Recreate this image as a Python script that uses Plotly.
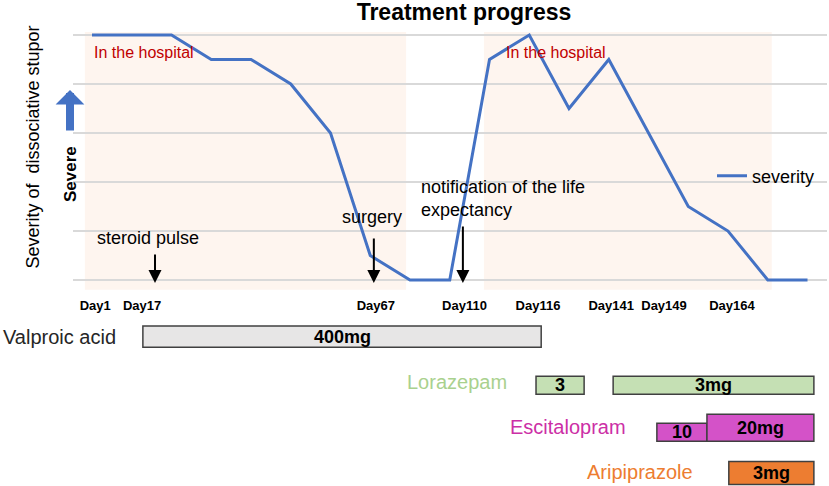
import plotly.graph_objects as go

# severity score at each time point (equally spaced on the chart)
points = list(range(19))
severity = [5, 5, 5, 4.5, 4.5, 4, 3, 0.5, 0, 0, 4.5, 5, 3.5, 4.5, 3, 1.5, 1, 0, 0]

day_pos = [0.08, 1.26, 7.14, 9.37, 11.22, 13.06, 14.39, 16.1]
day_labels = ['Day1', 'Day17', 'Day67', 'Day110', 'Day116', 'Day141', 'Day149', 'Day164']

hospital_start = [-0.18, 9.86]
hospital_end = [7.9, 17.1]
hospital_label_x = [0.0, 10.36]

event_names = ['steroid pulse', 'surgery', 'notification of the life<br>expectancy']
event_pos = [1.585, 7.09, 9.33]

med_names = ['Valproic acid', 'Lorazepam', 'Escitalopram', 'Aripiprazole']
med_start = [[1.28], [11.17, 13.11], [14.21, 15.47], [16.02]]
med_end = [[11.3], [12.38, 18.16], [15.47, 18.16], [18.16]]
med_dose = [['400mg'], ['3', '3mg'], ['10', '20mg'], ['3mg']]

FONT = 'Arial, Liberation Sans, sans-serif'

# bar look per row (fill, label colour, bar thickness/offset in row units)
med_fill = ['#e7e6e6', '#c5e0b4', '#d452c8', '#ed7d31']
med_text = ['#262626', '#a9d18e', '#cc2fa6', '#ed7d31']
med_width = [[0.467], [0.4, 0.4], [0.4, 0.6], [0.511]]
med_offset = [[-0.244], [-0.133, -0.133], [-0.089, -0.289], [-0.244]]
label_right = [118, 509, 628, 695]

W, H = 829, 486

fig = go.Figure()
fig.add_trace(go.Scatter(x=points, y=severity, mode='lines', name='severity',
                         line=dict(color='#4472c4', width=3)))

for i, name in enumerate(med_names):
    lengths = [e - s for s, e in zip(med_start[i], med_end[i])]
    fig.add_trace(go.Bar(orientation='h', y=[i] * len(lengths), x=lengths, base=med_start[i],
                         width=med_width[i], offset=med_offset[i], yaxis='y2',
                         marker=dict(color=med_fill[i], line=dict(color='#404040', width=1.5)),
                         showlegend=False, hoverinfo='skip'))
    for s, e, w, o, d in zip(med_start[i], med_end[i], med_width[i], med_offset[i], med_dose[i]):
        fig.add_annotation(x=(s + e) / 2, y=i + o + w / 2, xref='x', yref='y2', text=d,
                           showarrow=False, font=dict(family=FONT, size=18, color='black', weight='bold'))
    fig.add_annotation(x=label_right[i] / W, y=i, xref='paper', yref='y2', text=name,
                       xanchor='right', yanchor='middle', showarrow=False,
                       font=dict(family=FONT, size=20, color=med_text[i]))

for s, e, lx in zip(hospital_start, hospital_end, hospital_label_x):
    fig.add_shape(type='rect', xref='x', yref='y', x0=s, x1=e, y0=-0.2, y1=5.06,
                  fillcolor='rgba(248,203,173,0.2)', line_width=0, layer='below')
    fig.add_annotation(x=lx, y=4.65, xref='x', yref='y', text='In the hospital',
                       xanchor='left', showarrow=False,
                       font=dict(family=FONT, size=16, color='#c00000'))

# event arrows and text
arrow_len = [30, 46, 58]
text_x = [1.42, 7.04, 8.23]
text_y = [0.857, 1.286, 1.67]
text_anchor = ['center', 'center', 'left']
for name, pos, ln, tx, ty, ta in zip(event_names, event_pos, arrow_len, text_x, text_y, text_anchor):
    fig.add_annotation(x=pos, y=-0.06, xref='x', yref='y', ax=0, ay=-ln, text='',
                       showarrow=True, arrowhead=2, arrowsize=1.3, arrowwidth=2, arrowcolor='black')
    fig.add_annotation(x=tx, y=ty, xref='x', yref='y', text=name, xanchor=ta, align='left',
                       showarrow=False, font=dict(family=FONT, size=18, color='black'))

fig.add_annotation(x=32 / W, y=(H - 147.5) / H, xref='paper', yref='paper',
                   text='Severity of  dissociative stupor', textangle=-90, showarrow=False,
                   xanchor='center', yanchor='middle',
                   font=dict(family=FONT, size=18, color='black'))
fig.add_annotation(x=70 / W, y=(H - 174) / H, xref='paper', yref='paper', text='Severe',
                   textangle=-90, showarrow=False, xanchor='center', yanchor='middle',
                   font=dict(family=FONT, size=17, color='black', weight='bold'))
fig.add_annotation(x=70 / W, y=(H - 90) / H, xref='paper', yref='paper', ax=0, ay=42, text='',
                   showarrow=True, arrowhead=1, arrowsize=0.6, arrowwidth=8, arrowcolor='#4472c4')

fig.update_layout(
    width=W, height=H,
    margin=dict(l=0, r=0, t=0, b=0),
    paper_bgcolor='white', plot_bgcolor='white',
    barmode='overlay',
    title=dict(text='<b>Treatment progress</b>', x=464 / W, xanchor='center',
               y=(H - 12) / H, yanchor='middle',
               font=dict(family=FONT, size=23, color='black')),
    xaxis=dict(domain=[73 / W, 827 / W], range=[-0.478, 18.49], showgrid=False, zeroline=False,
               showline=False, tickvals=day_pos, ticktext=day_labels, ticks='',
               tickfont=dict(family=FONT, size=13, color='black', weight='bold')),
    yaxis=dict(domain=[(H - 296.2) / H, (H - 10.5) / H], range=[-0.33, 5.5], showgrid=True,
               gridcolor='#d9d9d9', gridwidth=1.5, tickvals=[0, 1, 2, 3, 4, 5],
               showticklabels=False, zeroline=False, showline=False),
    yaxis2=dict(domain=[0, (H - 314.5) / H], range=[3.3, -0.5], showgrid=False, zeroline=False,
                showticklabels=False, showline=False),
    legend=dict(x=712 / W, y=(H - 176) / H, yanchor='middle', bgcolor='rgba(0,0,0,0)',
                font=dict(family=FONT, size=18, color='black')),
    showlegend=True,
)

# page has a default 8px body margin; drop it so the figure fills the window
fig.write_html('out.html', config={'displayModeBar': False},
               post_script="document.body.style.margin='0';")
